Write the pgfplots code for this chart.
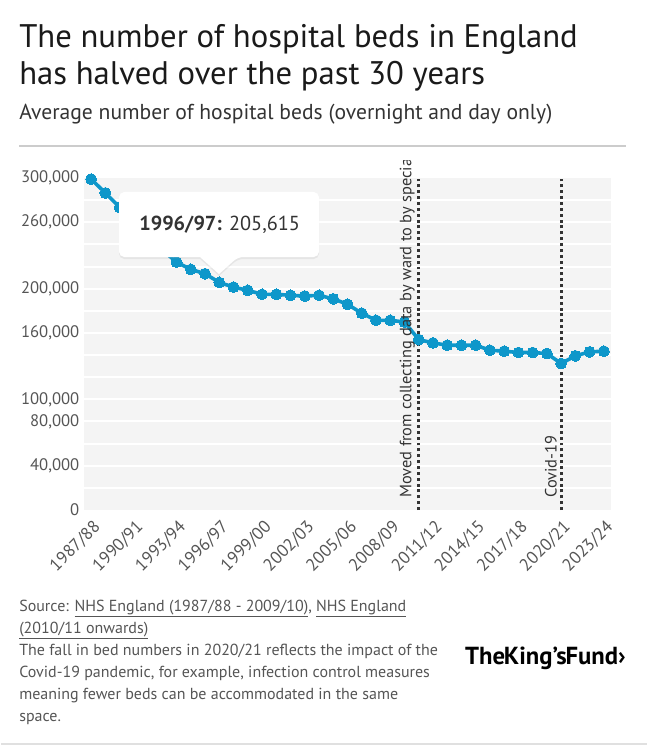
\documentclass[border=0pt]{standalone}
\usepackage{pgfplots}
\pgfplotsset{compat=1.18}
\usepackage{pgfplotstable}
\usepackage{fontspec}
\setmainfont{PT Sans}
\usetikzlibrary{shadows}

\definecolor{bedblue}{HTML}{0E97CA}
\definecolor{bandgray}{HTML}{F4F4F4}
\definecolor{labgray}{HTML}{555555}
\definecolor{titlecol}{HTML}{1A1A1A}
\definecolor{subcol}{HTML}{333333}

% average beds, 1987/88 (0) to 2023/24 (36)
\pgfplotstableread{
idx beds
0 299000
1 286500
2 273500
3 260000
4 247000
5 235000
6 224000
7 217400
8 213500
9 205615
10 201400
11 198500
12 194900
13 194900
14 194000
15 193300
16 194000
17 190800
18 185900
19 177800
20 171400
21 171400
22 169900
23 154000
24 151000
25 148900
26 148900
27 148900
28 144400
29 143500
30 142300
31 142300
32 141400
33 132400
34 139300
35 142900
36 143500
}\beds

\begin{document}
\begin{tikzpicture}
\begin{scope}[x=0.75pt,y=-0.75pt]
  \useasboundingbox (0,0) rectangle (646,745);
  % titles
  \node[anchor=base west, inner sep=0, text=titlecol, font=\fontsize{24.5}{28}\selectfont] at (18,48) {The number of hospital beds in England};
  \node[anchor=base west, inner sep=0, text=titlecol, font=\fontsize{24.5}{28}\selectfont] at (18,85) {has halved over the past 30 years};
  \node[anchor=base west, inner sep=0, text=subcol, font=\fontsize{16.2}{19}\selectfont] at (18,120) {Average number of hospital beds (overnight and day only)};
  \draw[black!20, line width=1.1pt] (18,146) -- (625,146);
\end{scope}

\begin{axis}[
  at={(62.25pt,-382.5pt)}, anchor=south west,
  scale only axis, width=395.25pt, height=249pt,
  xmin=-0.5, xmax=36.5, ymin=0, ymax=300000,
  axis background/.style={fill=bandgray},
  axis line style={draw=none},
  major tick length=0pt, minor tick length=0pt,
  scaled y ticks=false,
  xtick={0,3,...,36},
  xticklabels={1987/88,1990/91,1993/94,1996/97,1999/00,2002/03,2005/06,2008/09,2011/12,2014/15,2017/18,2020/21,2023/24},
  xticklabel style={xshift=5pt, yshift=-10.5pt, rotate=45, anchor=east, inner sep=0pt, font=\fontsize{13}{14}\selectfont, text=labgray},
  ytick={0,40000,80000,100000,160000,200000,260000,300000},
  yticklabels={0,{40,000},{80,000},{100,000},{160,000},{200,000},{260,000},{300,000}},
  yticklabel style={font=\fontsize{12.5}{13}\selectfont, text=labgray},
  minor ytick={20000,40000,...,280000},
  yminorgrids, minor grid style={white, line width=1.5pt},
  clip=false,
]
  \draw[subcol, line width=2.3pt, dash pattern=on 2.2pt off 2.2pt] (axis cs:23,0) -- (axis cs:23,302000);
  \draw[subcol, line width=2.3pt, dash pattern=on 2.2pt off 2.2pt] (axis cs:33,0) -- (axis cs:33,302000);
  \addplot[bedblue, line width=2.7pt, mark=*, mark size=4.1pt,
    mark options={fill=bedblue, draw=bedblue, line width=0pt}]
    table[x=idx, y=beds]{\beds};
\end{axis}

\begin{scope}[x=0.75pt,y=-0.75pt]
  \begin{scope}
    \clip (0,161) rectangle (646,745);
    \node[rotate=90, anchor=south west, inner sep=0, text=subcol, font=\fontsize{12.3}{13}\selectfont] at (414,498) {Moved from collecting data by ward to by specialty};
  \end{scope}
  \node[rotate=90, anchor=south west, inner sep=0, text=subcol, font=\fontsize{12.3}{13}\selectfont] at (556,498) {Covid-19};
  % tooltip
  \path[fill=white, rounded corners=4pt, drop shadow={shadow xshift=0pt, shadow yshift=-1.5pt, opacity=0.12}]
    (118,192) -- (318,192) -- (318,257) -- (237,257) [sharp corners] -- (218,274) -- (199,257) [rounded corners=4pt] -- (118,257) -- cycle;
  \node[anchor=west, inner sep=0, text=subcol, font=\fontsize{15.2}{18}\selectfont] at (138,225) {\textbf{1996/97:} 205,615};
  % footer
  \begin{scope}[every node/.style={anchor=base west, inner sep=0, text=labgray, font=\fontsize{12}{14}\selectfont}]
    \node at (18,611) {Source: \underline{NHS England (1987/88 - 2009/10)}, \underline{NHS England}};
    \node at (18,633) {\underline{(2010/11 onwards)}};
    \node at (18,655) {The fall in bed numbers in 2020/21 reflects the impact of the};
    \node at (18,677) {Covid-19 pandemic, for example, infection control measures};
    \node at (18,699) {meaning fewer beds can be accommodated in the same};
    \node at (18,721) {space.};
  \end{scope}
  \node[anchor=base east, inner sep=0, text=black, font=\fontsize{18.5}{20}\selectfont\bfseries] at (625,664) {The\hspace{-0.8pt}King’s\hspace{-0.8pt}Fund›};
  \draw[black!12, line width=1.5pt] (0,744) -- (646,744);
\end{scope}
\end{tikzpicture}
\end{document}
